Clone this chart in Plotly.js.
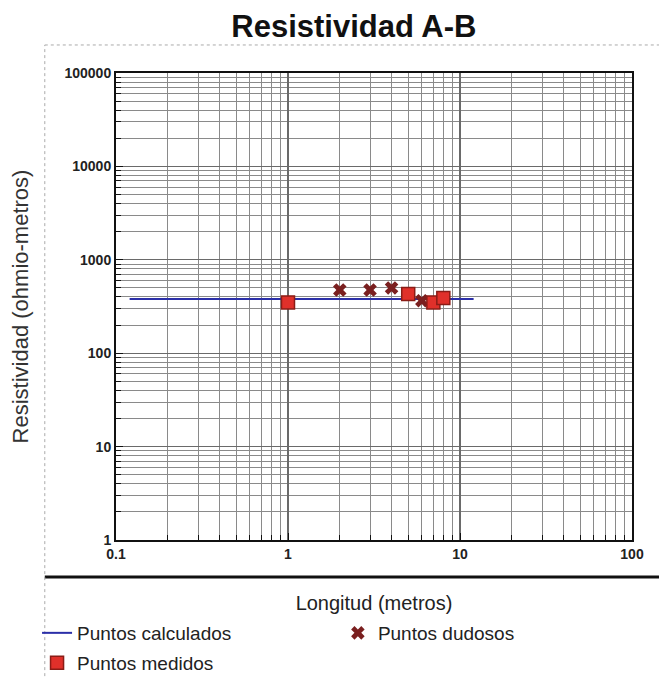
<!DOCTYPE html>
<html>
<head>
<meta charset="utf-8">
<script src="https://cdn.plot.ly/plotly-3.0.1.min.js"></script>
<style>html,body{margin:0;padding:0;background:#fff;}#chart{width:659px;height:679px;}</style>
</head>
<body>
<div id="chart"></div>
<script>
// Data
const calcX = [0.12, 12];
const calcY = [380, 380];
const medX = [1, 5, 7, 8];
const medY = [350, 430, 350, 390];
const dudX = [2, 3, 4, 6];
const dudY = [475, 475, 500, 365];
const xTickVals = [0.1, 1, 10, 100];
const xTickText = ['0.1', '1', '10', '100'];
const yTickVals = [1, 10, 100, 1000, 10000, 100000];
const yTickText = ['1', '10', '100', '1000', '10000', '100000'];

const FONT = 'Liberation Sans, Arial, sans-serif';

const traces = [
  {x: calcX, y: calcY, type: 'scatter', mode: 'lines', name: 'Puntos calculados',
   line: {color: '#2b2fa8', width: 2}, legend: 'legend'},
  {x: dudX, y: dudY, type: 'scatter', mode: 'markers', name: 'Puntos dudosos',
   marker: {symbol: 'x', size: 12, color: '#7a1f1f', line: {width: 0}}, legend: 'legend2'},
  {x: medX, y: medY, type: 'scatter', mode: 'markers', name: 'Puntos medidos',
   marker: {symbol: 'square', size: 13, color: '#e0302a', line: {color: '#8a1c16', width: 1.5}}, legend: 'legend3'}
];

const gridC = '#8a8a8a';
const axisCommon = {
  type: 'log', showline: true, mirror: true, linecolor: '#111', linewidth: 2,
  showgrid: true, gridcolor: '#6a6a6a', gridwidth: 1.2, automargin: false,
  ticks: 'inside', ticklen: 7, tickcolor: '#111', zeroline: false,
  tickmode: 'array',
  tickfont: {family: FONT, size: 14, color: '#222', weight: 'bold'},
  minor: {showgrid: true, gridcolor: gridC, gridwidth: 1, ticks: 'inside', ticklen: 5, tickcolor: '#111', dtick: 'D1'}
};

const legendCommon = {xanchor: 'left', yanchor: 'top', xref: 'paper', yref: 'container',
  bgcolor: 'rgba(0,0,0,0)', font: {family: FONT, size: 19, color: '#222'}, itemwidth: 30};

const layout = {
  width: 659, height: 679,
  paper_bgcolor: '#fff', plot_bgcolor: '#fff',
  margin: {l: 116, r: 27, t: 73, b: 139},
  title: {text: 'Resistividad A-B', font: {family: FONT, size: 31, color: '#111', weight: 'bold'},
          x: 0.461, xref: 'paper', xanchor: 'center', yref: 'container', y: 0.962, yanchor: 'middle'},
  xaxis: Object.assign({}, axisCommon, {
    range: [-1, 2], tickvals: xTickVals, ticktext: xTickText,
    title: {text: 'Longitud (metros)', font: {family: FONT, size: 20, color: '#222'}, standoff: 36}
  }),
  yaxis: Object.assign({}, axisCommon, {
    range: [0, 5], tickvals: yTickVals, ticktext: yTickText,
    title: {text: 'Resistividad (ohmio-metros)', font: {family: FONT, size: 22, color: '#333'}, standoff: 30}
  }),
  showlegend: true,
  legend: Object.assign({}, legendCommon, {x: -0.153, y: 1 - 614 / 679}),
  legend2: Object.assign({}, legendCommon, {x: 0.430, y: 1 - 614 / 679}),
  legend3: Object.assign({}, legendCommon, {x: -0.153, y: 1 - 644 / 679}),
  shapes: [
    {type: 'line', xref: 'paper', yref: 'paper', x0: -0.138, x1: 1.06, y0: -0.079, y1: -0.079,
     line: {color: '#111', width: 3}},
    {type: 'line', xref: 'paper', yref: 'paper', x0: -0.138, x1: -0.138, y0: -0.33, y1: 1.06,
     line: {color: '#aaa', width: 1, dash: 'dot'}},
    {type: 'line', xref: 'paper', yref: 'paper', x0: -0.138, x1: 1.06, y0: 1.06, y1: 1.06,
     line: {color: '#aaa', width: 1, dash: 'dot'}}
  ]
};

Plotly.newPlot('chart', traces, layout, {displayModeBar: false, staticPlot: true});
</script>
</body>
</html>
